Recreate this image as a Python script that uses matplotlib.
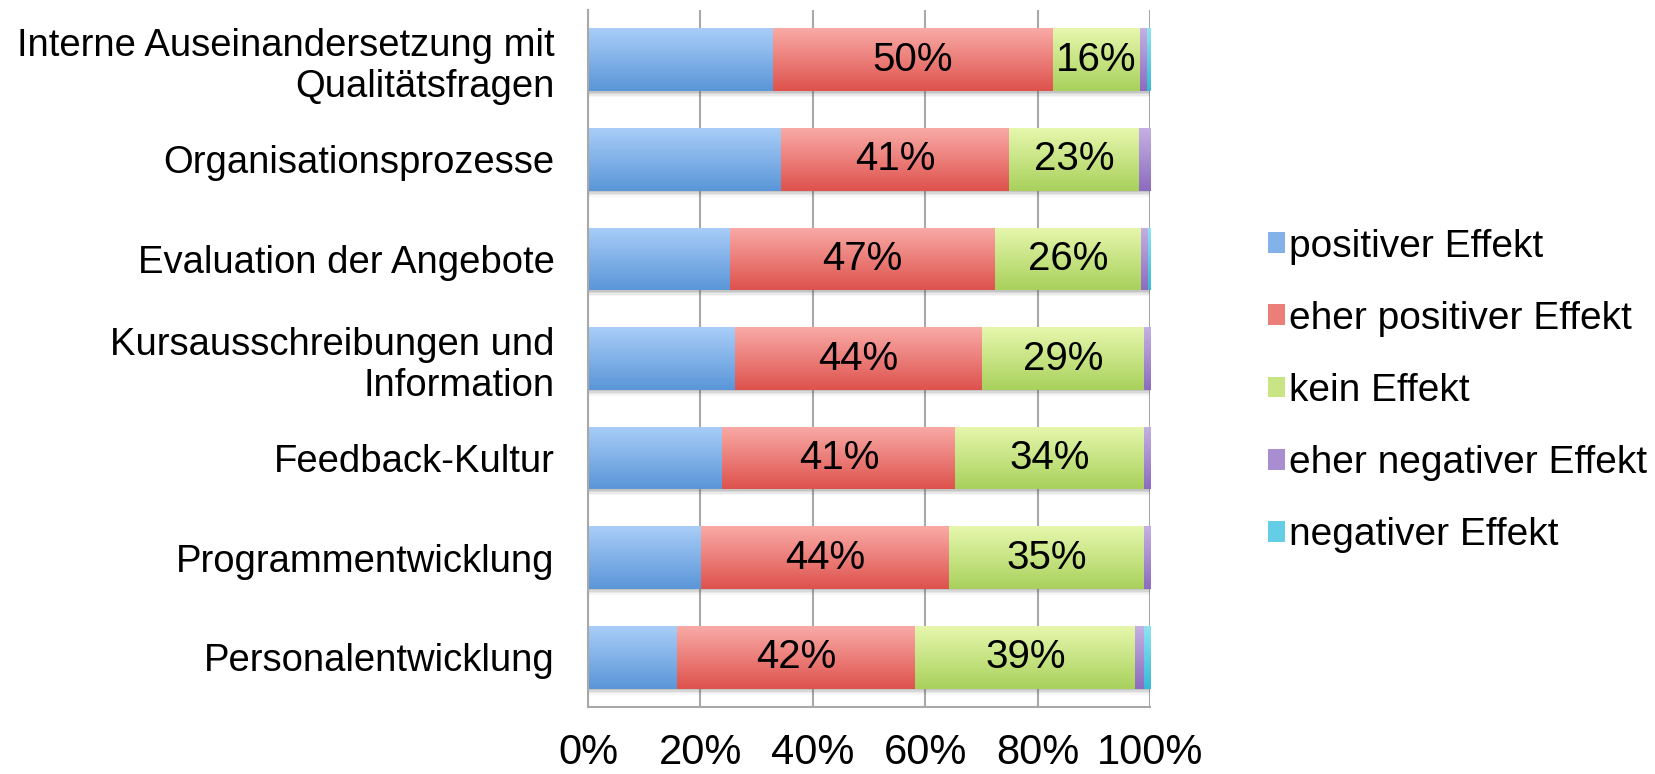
import numpy as np
import matplotlib
matplotlib.use("Agg")
import matplotlib.pyplot as plt
from matplotlib.colors import LinearSegmentedColormap

plt.rcParams["font.family"] = ["Liberation Sans", "DejaVu Sans"]

categories = [
    "Interne Auseinandersetzung mit\nQualitätsfragen",
    "Organisationsprozesse",
    "Evaluation der Angebote",
    "Kursausschreibungen und\nInformation",
    "Feedback-Kultur",
    "Programmentwicklung",
    "Personalentwicklung",
]
series_names = [
    "positiver Effekt",
    "eher positiver Effekt",
    "kein Effekt",
    "eher negativer Effekt",
    "negativer Effekt",
]
positiv = [32.9, 34.3, 25.2, 26.2, 23.9, 20.1, 15.9]
eher_positiv = [49.7, 40.6, 47.1, 43.8, 41.4, 44.0, 42.3]
kein = [15.6, 23.0, 26.1, 28.9, 33.6, 34.8, 39.1]
eher_negativ = [1.2, 2.1, 1.2, 1.1, 1.1, 1.1, 1.6]
negativ = [0.6, 0.0, 0.4, 0.0, 0.0, 0.0, 1.1]
labelled = [False, True, True, False, False]
x_ticks = [0, 20, 40, 60, 80, 100]

# (light top, dark bottom) for the gradient look
grad_colors = [
    ("#a9cdf8", "#5a96d8"),
    ("#f9aaa6", "#de524d"),
    ("#e6f7ad", "#a9d15c"),
    ("#c4b0e2", "#8c6cbf"),
    ("#8fe3f3", "#37b9d8"),
]


def gradient_fill(ax, patch, top, bottom):
    x0, y0 = patch.get_xy()
    w, h = patch.get_width(), patch.get_height()
    if w <= 0:
        return
    cmap = LinearSegmentedColormap.from_list("g", [bottom, top])
    grad = np.linspace(0, 1, 64).reshape(-1, 1)
    im = ax.imshow(grad, cmap=cmap, extent=[x0, x0 + w, y0, y0 + h],
                   aspect="auto", origin="lower", zorder=2.5,
                   interpolation="bilinear")
    im.set_clip_path(patch)


data = [positiv, eher_positiv, kein, eher_negativ, negativ]
n = len(categories)
y = np.arange(n)[::-1]
bar_h = 0.63

fig, ax = plt.subplots(figsize=(16.55, 7.74), dpi=100)
fig.subplots_adjust(left=0.3553, right=0.6951, top=0.987, bottom=0.0866)

# soft drop shadow under each bar
totals = np.sum(data, axis=0)
for off, a in [(0.015, 0.14), (0.03, 0.11), (0.045, 0.08), (0.06, 0.05)]:
    ax.barh(y - off, totals, height=bar_h, color="#555555", alpha=a,
            zorder=1.5, linewidth=0)

left = np.zeros(n)
for vals, name, (top, bot), show in zip(data, series_names, grad_colors, labelled):
    mid = LinearSegmentedColormap.from_list("m", [bot, top])(0.5)
    bars = ax.barh(y, vals, left=left, height=bar_h, color=mid,
                   label=name, zorder=2, linewidth=0)
    for p in bars:
        gradient_fill(ax, p, top, bot)
    if show:
        ax.bar_label(bars, labels=[f"{v:.0f}%" for v in vals],
                     label_type="center", fontsize=29, zorder=4)
    left += np.array(vals)

ax.set_xlim(0, 100)
ax.set_ylim(-0.5, n - 0.5)
ax.set_xticks(x_ticks)
ax.set_xticklabels([f"{t}%" for t in x_ticks], fontsize=30)
ax.set_yticks(y)
ax.set_yticklabels(categories, fontsize=27.5, linespacing=1.2, ha="center")
for lbl in ax.get_yticklabels():
    lbl.set_horizontalalignment("right")
ax.tick_params(axis="both", length=0)
ax.tick_params(axis="x", pad=19)
ax.tick_params(axis="y", pad=24)

ax.grid(axis="x", color="#a8a8a8", linewidth=1.5, zorder=0)
ax.set_axisbelow(True)
for s in ["top", "right"]:
    ax.spines[s].set_visible(False)
for s in ["left", "bottom"]:
    ax.spines[s].set_color("#a8a8a8")
    ax.spines[s].set_linewidth(1.5)

leg = fig.legend(loc="center left", bbox_to_anchor=(0.745, 0.495),
                 frameon=False, fontsize=28, handlelength=0.45,
                 handleheight=0.45, handletextpad=0.08, labelspacing=0.93)

plt.savefig("out.png", dpi=100)
plt.close(fig)
